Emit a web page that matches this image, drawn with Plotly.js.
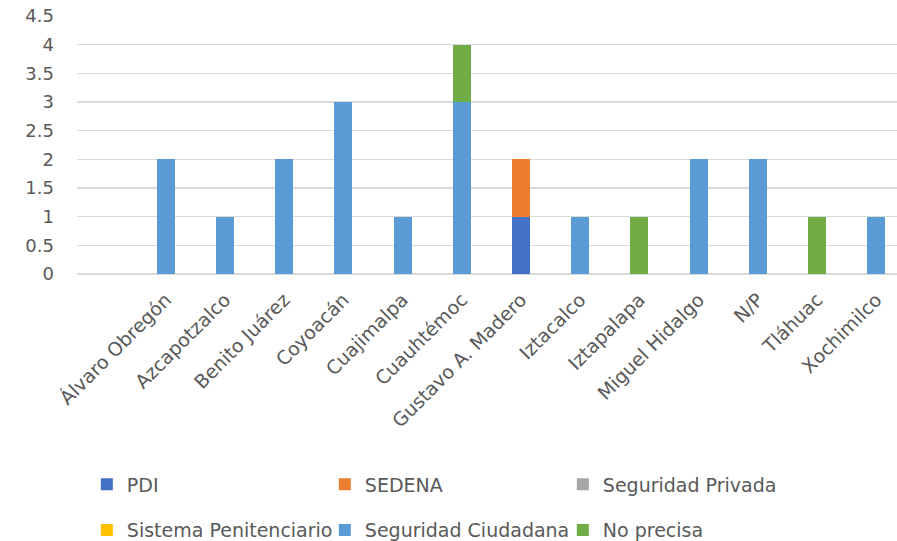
<!DOCTYPE html>
<html>
<head>
<meta charset="utf-8">
<script src="https://cdn.plot.ly/plotly-3.0.1.min.js"></script>
<style>html,body{margin:0;padding:0;background:#fff;}#chart{width:897px;height:541px;}</style>
</head>
<body>
<div id="chart"></div>
<script>
const categories = ["Álvaro Obregón","Azcapotzalco","Benito Juárez","Coyoacán","Cuajimalpa","Cuauhtémoc","Gustavo A. Madero","Iztacalco","Iztapalapa","Miguel Hidalgo","N/P","Tláhuac","Xochimilco"];
const pdi =                  [0,0,0,0,0,0,1,0,0,0,0,0,0];
const sedena =               [0,0,0,0,0,0,1,0,0,0,0,0,0];
const seguridadPrivada =     [0,0,0,0,0,0,0,0,0,0,0,0,0];
const sistemaPenitenciario = [0,0,0,0,0,0,0,0,0,0,0,0,0];
const seguridadCiudadana =   [2,1,2,3,1,3,0,1,0,2,2,0,1];
const noPrecisa =            [0,0,0,0,0,1,0,0,1,0,0,1,0];
const yTicks = [0,0.5,1,1.5,2,2.5,3,3.5,4,4.5];

const series = [
  {name:"PDI", y:pdi, color:"#4472C4", legend:"legend"},
  {name:"SEDENA", y:sedena, color:"#ED7D31", legend:"legend"},
  {name:"Seguridad Privada", y:seguridadPrivada, color:"#A5A5A5", legend:"legend"},
  {name:"Sistema Penitenciario", y:sistemaPenitenciario, color:"#FFC000", legend:"legend2"},
  {name:"Seguridad Ciudadana", y:seguridadCiudadana, color:"#5B9BD5", legend:"legend2"},
  {name:"No precisa", y:noPrecisa, color:"#70AD47", legend:"legend2"}
];

const traces = series.map(s => ({
  type:"bar", name:s.name, x:categories, y:s.y, legend:s.legend,
  marker:{color:s.color, line:{width:0}}, hoverinfo:"x+y+name"
}));

const txt = "#595959";
const yFont = {family:"DejaVu Sans, sans-serif", size:18, color:txt};
const xFont = {family:"DejaVu Sans, sans-serif", size:19, color:txt};
const legendCommon = {orientation:"h", xanchor:"left", yanchor:"middle", xref:"paper", yref:"paper",
  entrywidth:193, entrywidthmode:"pixels", font:{family:"DejaVu Sans, sans-serif", size:19, color:txt},
  bgcolor:"rgba(0,0,0,0)", itemwidth:30, traceorder:"normal"};

const layout = {
  width:897, height:541,
  margin:{l:77, r:0, t:16, b:267, autoexpand:false},
  paper_bgcolor:"#fff", plot_bgcolor:"#fff",
  barmode:"stack", bargap:0.696,
  font:yFont,
  showlegend:true,
  xaxis:{type:"category", range:[-1.5, 12.35], tickangle:-45, tickfont:xFont, showgrid:false,
    showline:false, ticks:"", zeroline:false, fixedrange:true, automargin:false, ticklabelstandoff:10},
  yaxis:{range:[0,4.5], tickvals:yTicks, ticktext:yTicks.map(String), tickfont:yFont, showgrid:true,
    gridcolor:"#D9D9D9", gridwidth:1.5, zeroline:true, zerolinecolor:"#D9D9D9", zerolinewidth:1.5,
    showline:false, ticks:"", ticklabelstandoff:22, fixedrange:true, automargin:false},
  legend:Object.assign({}, legendCommon, {x:0.012, y:-0.8155}),
  legend2:Object.assign({}, legendCommon, {x:0.012, y:-0.993})
};

Plotly.newPlot("chart", traces, layout, {displayModeBar:false, staticPlot:true});
</script>
</body>
</html>
